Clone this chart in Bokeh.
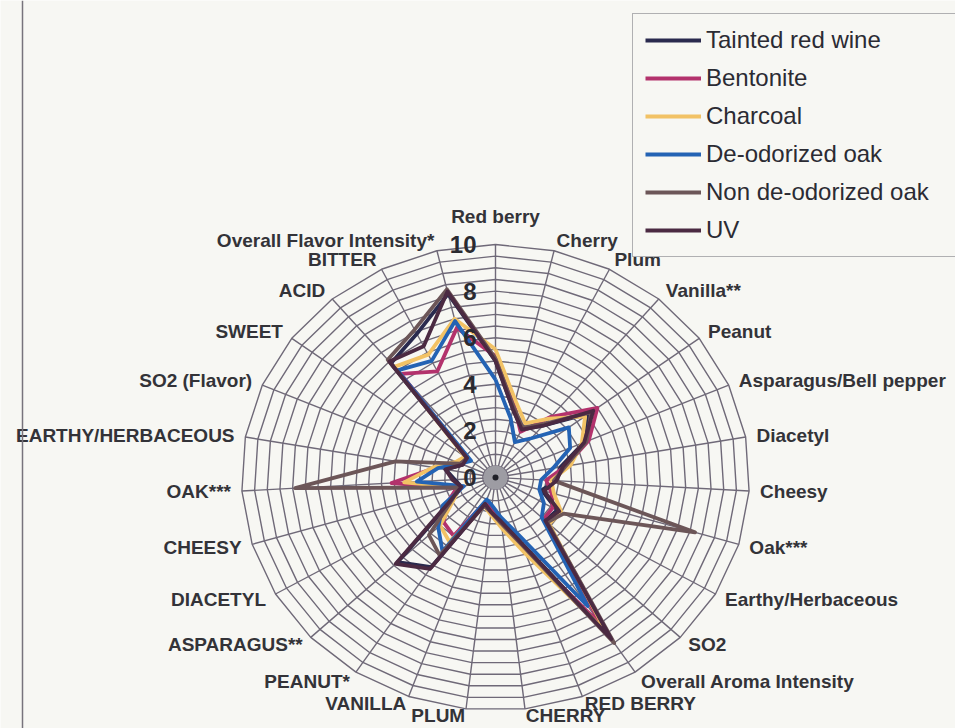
import numpy as np
from bokeh.plotting import figure
from bokeh.models import ColumnDataSource, Legend, LegendItem, Span
from bokeh.core.properties import value
from bokeh.embed import file_html
from bokeh.resources import INLINE

# Sensory attributes (aroma first, then flavour, upper case), clockwise from top
categories = [
    "Red berry", "Cherry", "Plum", "Vanilla**", "Peanut", "Asparagus/Bell pepper",
    "Diacetyl", "Cheesy", "Oak***", "Earthy/Herbaceous", "SO2", "Overall Aroma Intensity",
    "RED BERRY", "CHERRY", "PLUM", "VANILLA", "PEANUT*", "ASPARAGUS**", "DIACETYL",
    "CHEESY", "OAK***", "EARTHY/HERBACEOUS", "SO2 (Flavor)", "SWEET", "ACID", "BITTER",
    "Overall Flavor Intensity*",
]

# Mean panel scores per treatment
tainted_red_wine = [5.0, 3.0, 2.3, 2.9, 4.6, 3.8, 2.6, 2.4, 1.9, 2.8, 2.7, 8.2, 3.0, 1.9,
                    1.5, 1.2, 4.6, 5.3, 2.0, 1.4, 1.6, 2.0, 1.4, 1.4, 6.4, 6.9, 8.1]
bentonite = [5.2, 3.2, 2.2, 3.4, 5.0, 4.0, 2.8, 2.0, 2.3, 2.6, 2.6, 7.6, 3.3, 2.1,
             1.3, 1.1, 3.0, 2.8, 2.2, 1.6, 4.1, 2.4, 1.6, 1.3, 5.8, 5.1, 6.6]
charcoal = [5.5, 3.4, 2.6, 3.3, 4.4, 3.7, 3.0, 2.2, 2.4, 3.0, 2.9, 7.9, 3.5, 2.2,
            1.6, 1.3, 3.3, 3.0, 1.9, 1.5, 3.6, 2.5, 1.7, 1.5, 6.2, 5.9, 7.0]
deodorized_oak = [4.2, 2.6, 1.7, 2.2, 3.6, 3.2, 2.3, 1.8, 1.8, 2.2, 2.5, 6.6, 2.6, 1.7,
                  1.2, 1.0, 3.8, 3.1, 2.4, 1.3, 3.1, 2.3, 1.5, 1.2, 6.0, 5.6, 6.9]
non_deodorized_oak = [5.1, 3.1, 2.4, 3.0, 4.7, 3.9, 2.8, 2.3, 8.2, 3.1, 2.8, 8.5, 3.1, 2.0,
                      1.5, 1.3, 4.0, 3.6, 2.0, 1.5, 7.9, 4.0, 1.5, 1.4, 6.6, 7.1, 8.3]
uv = [5.0, 3.0, 2.3, 2.9, 4.8, 3.8, 2.7, 2.4, 2.0, 2.9, 2.7, 8.3, 3.0, 1.9,
      1.5, 1.2, 4.7, 5.4, 2.1, 1.4, 1.7, 2.0, 1.4, 1.4, 6.5, 6.3, 8.2]

series_names = ["Tainted red wine", "Bentonite", "Charcoal", "De-odorized oak",
                "Non de-odorized oak", "UV"]
series_values = [tainted_red_wine, bentonite, charcoal, deodorized_oak,
                 non_deodorized_oak, uv]
series_colors = ["#2a2a4e", "#b3326c", "#f2c265", "#2463b4", "#6c5658", "#4b2a42"]

tick_values = [0, 2, 4, 6, 8, 10]
ring_step = 0.5
r_max = 10

# Page geometry
W, H = 955, 728
CX, CY = 495, 477          # pixel position of the chart centre
KX, KY = 25.4, 23.3        # pixels per score unit (horizontal / vertical)
BG = "#f7f7f3"
GRID = "#6f6978"
FONT = value("Liberation Sans")

n = len(categories)
theta = np.deg2rad(90 - np.arange(n) * 360.0 / n)
cos_t, sin_t = np.cos(theta), np.sin(theta)

p = figure(width=W, height=H,
           x_range=(-CX / KX, (W - CX) / KX),
           y_range=(-(H - CY) / KY, CY / KY),
           x_axis_location=None, y_axis_location=None,
           output_backend="svg", toolbar_location=None, min_border=0)
p.grid.visible = False
p.outline_line_color = None
p.background_fill_color = BG
p.border_fill_color = BG

# Frame line on the left
p.add_layout(Span(location=(22 - CX) / KX, dimension="height",
                  line_color="#77737c", line_width=1.5))

# Polygonal rings and spokes
rings = np.arange(ring_step, r_max + 1e-9, ring_step)
ring_xs = [list(np.append(r * cos_t, r * cos_t[0])) for r in rings]
ring_ys = [list(np.append(r * sin_t, r * sin_t[0])) for r in rings]
p.multi_line(ring_xs, ring_ys, line_color=GRID, line_width=1.4)
p.multi_line([[0, r_max * c] for c in cos_t], [[0, r_max * s] for s in sin_t],
             line_color=GRID, line_width=1.4)
p.scatter(x=[0], y=[0], size=24, fill_color="#9d9ca3", line_color=None)

# Treatment profiles
renderers = []
for name, vals, col in zip(series_names, series_values, series_colors):
    v = np.asarray(vals, dtype=float)
    xs = np.append(v * cos_t, v[0] * cos_t[0])
    ys = np.append(v * sin_t, v[0] * sin_t[0])
    r = p.line(xs, ys, line_color=col, line_width=3.8, line_join="round")
    renderers.append(r)

p.scatter(x=[0], y=[0], size=6, fill_color="#202028", line_color=None)

# Radial scale labels
p.text(x=[0] * len(tick_values), y=tick_values, text=[str(t) for t in tick_values],
       x_offset=-19, text_align="right", text_baseline="middle",
       text_font=FONT, text_font_style="bold", text_font_size="24px",
       text_color="#2a2a30")

# Category labels just outside the outer ring
aligns, baselines, xo, yo = [], [], [], []
for c, s in zip(cos_t, sin_t):
    if abs(c) < 0.05:
        aligns.append("center")
        baselines.append("bottom" if s > 0 else "top")
        d = 18
    else:
        aligns.append("left" if c > 0 else "right")
        baselines.append("middle")
        d = 7 if s < -0.9 else 11
    xo.append(d * c)
    yo.append(-d * s)

lab_src = ColumnDataSource(dict(x=r_max * cos_t, y=r_max * sin_t, text=categories,
                                align=aligns, base=baselines, xo=xo, yo=yo))
p.text(x="x", y="y", text="text", source=lab_src, x_offset="xo", y_offset="yo",
       text_align="align", text_baseline="base", text_font=FONT,
       text_font_style="bold", text_font_size="19px", text_color="#333338")

legend = Legend(items=[LegendItem(label=nm, renderers=[r])
                       for nm, r in zip(series_names, renderers)],
                location=(632, 471))
legend.label_text_font = "Liberation Sans"
legend.label_text_font_size = "24px"
legend.label_text_color = "#2b2b33"
legend.glyph_width = 56
legend.glyph_height = 28
legend.label_height = 28
legend.label_width = 270
legend.label_standoff = 5
legend.spacing = 10
legend.padding = 12
legend.margin = 0
legend.border_line_color = "#6a6a72"
legend.border_line_width = 1.5
legend.background_fill_color = BG
legend.background_fill_alpha = 1.0
p.add_layout(legend)

open("out.html", "w").write(file_html(p, INLINE))
